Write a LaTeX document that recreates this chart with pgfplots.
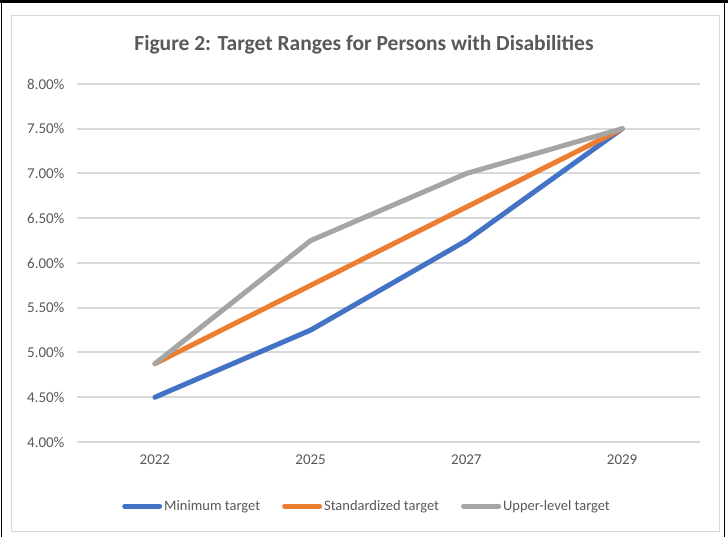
\documentclass[border=0pt]{standalone}
\usepackage{pgfplots}
\pgfplotsset{compat=1.18}
\usepackage{fontspec}
\setmainfont{Carlito}
\definecolor{cblue}{HTML}{4472C4}
\definecolor{corange}{HTML}{ED7D31}
\definecolor{cgray}{HTML}{A5A5A5}
\definecolor{gridc}{HTML}{D9D9D9}
\definecolor{txt}{HTML}{595959}
\begin{document}
\begin{tikzpicture}
\useasboundingbox (0pt,0pt) rectangle (728pt,537pt);
\fill[white] (0pt,0pt) rectangle (728pt,537pt);
\begin{axis}[
  at={(77pt,95pt)}, anchor=south west,
  scale only axis, width=623pt, height=358pt,
  xmin=-0.5, xmax=3.5, ymin=4, ymax=8,
  xtick={0,1,2,3}, xticklabels={2022,2025,2027,2029},
  ytick={4,4.5,...,8},
  yticklabel={\pgfmathprintnumber[fixed,fixed zerofill,precision=2]{\tick}\%},
  /pgf/number format/assume math mode=true,
  ticklabel style={font=\fontsize{15}{18}\selectfont, text=txt},
  y tick label style={xshift=-9pt},
  x tick label style={yshift=-9pt},
  major tick length=0pt,
  axis line style={draw=none},
  xmajorgrids=false, ymajorgrids=true,
  major grid style={draw=gridc, line width=2pt},
  legend columns=3,
  legend style={at={(0.4655,-0.179)}, anchor=center, draw=none, fill=none,
    font=\fontsize{14.5}{17}\selectfont, text=txt,
    /tikz/every even column/.append style={column sep=20pt},
    legend cell align=left},
  legend image code/.code={\draw[#1, line width=5pt, line cap=round] (0pt,0pt) -- (35pt,0pt);},
]
\addplot[cblue, line width=5pt, line cap=round, line join=round] coordinates {(0,4.5) (1,5.25) (2,6.25) (3,7.5)};
\addlegendentry{Minimum target}
\addplot[corange, line width=5pt, line cap=round, line join=round] coordinates {(0,4.875) (1,5.75) (2,6.625) (3,7.5)};
\addlegendentry{Standardized target}
\addplot[cgray, line width=5pt, line cap=round, line join=round] coordinates {(0,4.875) (1,6.25) (2,7.0) (3,7.5)};
\addlegendentry{Upper-level target}
\end{axis}
\node[text=txt, font=\bfseries\fontsize{21.5}{25}\selectfont] at (364pt,492pt) {Figure 2: Target Ranges for Persons with Disabilities};
\draw[black!15, line width=1pt] (11pt,5pt) rectangle (719pt,521pt);
\draw[black, line width=1pt] (1pt,0pt) -- (1pt,536pt);
\draw[black, line width=1pt] (724pt,0pt) -- (724pt,536pt);
\draw[black, line width=3pt] (0pt,535.5pt) -- (728pt,535.5pt);
\end{tikzpicture}
\end{document}
